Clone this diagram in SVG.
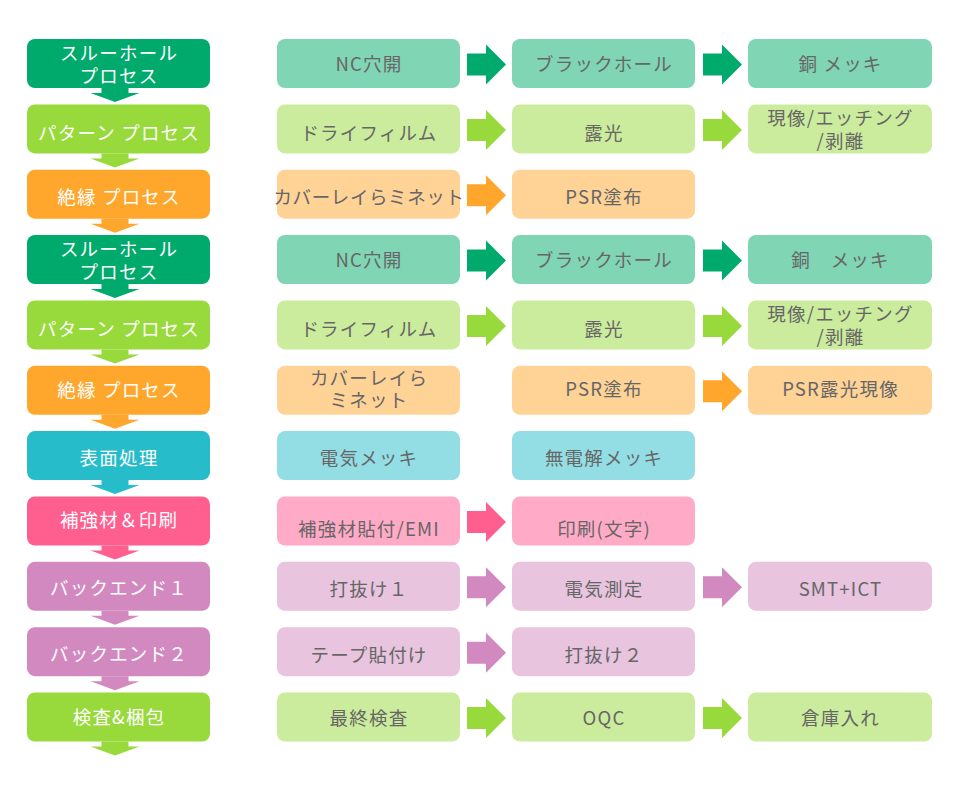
<svg xmlns="http://www.w3.org/2000/svg" xmlns:xlink="http://www.w3.org/1999/xlink" width="957" height="801" viewBox="0 0 957 801">
<defs>
<style>
text{font-family:"Noto Sans CJK JP","Noto Sans",sans-serif;font-size:18.5px;letter-spacing:1.2px;text-anchor:middle;white-space:pre}
.w{fill:#ffffff}
.g{fill:#666666}
.d1{fill:#00aa6c}.l1{fill:#80d5b5}
.d2{fill:#98d93c}.l2{fill:#ccec9d}
.d3{fill:#ffa62c}.l3{fill:#ffd296}
.d4{fill:#26bcca}.l4{fill:#93dde4}
.d5{fill:#ff5f8f}.l5{fill:#ffaac6}
.d6{fill:#d289bf}.l6{fill:#e8c4df}
</style>
<path id="ra" d="M0,-11 H19 V-20 L39,0 L19,20 V11 H0 Z"/>
<path id="da" d="M-13.5,0 H13.5 V5 H24.5 L0,14 L-24.5,5 H-13.5 Z"/>
</defs>

<g id="connectors">
<use xlink:href="#da" class="d1" x="115" y="88"/>
<use xlink:href="#da" class="d2" x="115" y="153.4"/>
<use xlink:href="#da" class="d3" x="115" y="218.7"/>
<use xlink:href="#da" class="d1" x="115" y="284"/>
<use xlink:href="#da" class="d2" x="115" y="349.4"/>
<use xlink:href="#da" class="d3" x="115" y="414.8"/>
<use xlink:href="#da" class="d4" x="115" y="480.1"/>
<use xlink:href="#da" class="d5" x="115" y="545.5"/>
<use xlink:href="#da" class="d6" x="115" y="610.8"/>
<use xlink:href="#da" class="d6" x="115" y="676.2"/>
<use xlink:href="#da" class="d2" x="115" y="741.5"/>

<use xlink:href="#ra" class="d1" x="467" y="64.5"/>
<use xlink:href="#ra" class="d1" x="703" y="64.5"/>
<use xlink:href="#ra" class="d2" x="467" y="129.9"/>
<use xlink:href="#ra" class="d2" x="703" y="129.9"/>
<use xlink:href="#ra" class="d3" x="467" y="195.2"/>
<use xlink:href="#ra" class="d1" x="467" y="260.5"/>
<use xlink:href="#ra" class="d1" x="703" y="260.5"/>
<use xlink:href="#ra" class="d2" x="467" y="325.9"/>
<use xlink:href="#ra" class="d2" x="703" y="325.9"/>
<use xlink:href="#ra" class="d3" x="703" y="391.3"/>
<use xlink:href="#ra" class="d5" x="467" y="522"/>
<use xlink:href="#ra" class="d6" x="467" y="587.3"/>
<use xlink:href="#ra" class="d6" x="703" y="587.3"/>
<use xlink:href="#ra" class="d6" x="467" y="652.7"/>
<use xlink:href="#ra" class="d2" x="467" y="718"/>
<use xlink:href="#ra" class="d2" x="703" y="718"/>
</g>

<!-- Row 0 -->
<g id="n0"><rect class="d1" x="27" y="39" width="183" height="49" rx="8"/><text class="w" x="119" y="60">スルーホール</text><text class="w" x="119" y="82.5">プロセス</text></g>
<g id="n0a"><rect class="l1" x="277" y="39" width="183" height="49" rx="8"/><text class="g" x="369" y="71">NC穴開</text></g>
<g id="n0b"><rect class="l1" x="512" y="39" width="183" height="49" rx="8"/><text class="g" x="604" y="71">ブラックホール</text></g>
<g id="n0c"><rect class="l1" x="748" y="39" width="184" height="49" rx="8"/><text class="g" x="840.5" y="71">銅 メッキ</text></g>

<!-- Row 1 -->
<g id="n1"><rect class="d2" x="27" y="104.4" width="183" height="49" rx="8"/><text class="w" x="119" y="140">パターン プロセス</text></g>
<g id="n1a"><rect class="l2" x="277" y="104.4" width="183" height="49" rx="8"/><text class="g" x="369" y="140">ドライフィルム</text></g>
<g id="n1b"><rect class="l2" x="512" y="104.4" width="183" height="49" rx="8"/><text class="g" x="604" y="140">露光</text></g>
<g id="n1c"><rect class="l2" x="748" y="104.4" width="184" height="49" rx="8"/><text class="g" x="840.5" y="125">現像/エッチング</text><text class="g" x="840.5" y="148">/剥離</text></g>

<!-- Row 2 -->
<g id="n2"><rect class="d3" x="27" y="169.7" width="183" height="49" rx="8"/><text class="w" x="119" y="204">絶縁 プロセス</text></g>
<g id="n2a"><rect class="l3" x="277" y="169.7" width="183" height="49" rx="8"/><text class="g" x="369" y="204" style="letter-spacing:0.6px">カバーレイらミネット</text></g>
<g id="n2b"><rect class="l3" x="512" y="169.7" width="183" height="49" rx="8"/><text class="g" x="604" y="204">PSR塗布</text></g>

<!-- Row 3 -->
<g id="n3"><rect class="d1" x="27" y="235" width="183" height="49" rx="8"/><text class="w" x="119" y="256">スルーホール</text><text class="w" x="119" y="278.5">プロセス</text></g>
<g id="n3a"><rect class="l1" x="277" y="235" width="183" height="49" rx="8"/><text class="g" x="369" y="267">NC穴開</text></g>
<g id="n3b"><rect class="l1" x="512" y="235" width="183" height="49" rx="8"/><text class="g" x="604" y="267">ブラックホール</text></g>
<g id="n3c"><rect class="l1" x="748" y="235" width="184" height="49" rx="8"/><text class="g" x="840.5" y="267">銅　メッキ</text></g>

<!-- Row 4 -->
<g id="n4"><rect class="d2" x="27" y="300.4" width="183" height="49" rx="8"/><text class="w" x="119" y="336">パターン プロセス</text></g>
<g id="n4a"><rect class="l2" x="277" y="300.4" width="183" height="49" rx="8"/><text class="g" x="369" y="336">ドライフィルム</text></g>
<g id="n4b"><rect class="l2" x="512" y="300.4" width="183" height="49" rx="8"/><text class="g" x="604" y="336">露光</text></g>
<g id="n4c"><rect class="l2" x="748" y="300.4" width="184" height="49" rx="8"/><text class="g" x="840.5" y="321">現像/エッチング</text><text class="g" x="840.5" y="344">/剥離</text></g>

<!-- Row 5 -->
<g id="n5"><rect class="d3" x="27" y="365.8" width="183" height="49" rx="8"/><text class="w" x="119" y="397">絶縁 プロセス</text></g>
<g id="n5a"><rect class="l3" x="277" y="365.8" width="183" height="49" rx="8"/><text class="g" x="369" y="385">カバーレイら</text><text class="g" x="369" y="407">ミネット</text></g>
<g id="n5b"><rect class="l3" x="512" y="365.8" width="183" height="49" rx="8"/><text class="g" x="604" y="396">PSR塗布</text></g>
<g id="n5c"><rect class="l3" x="748" y="365.8" width="184" height="49" rx="8"/><text class="g" x="840.5" y="396">PSR露光現像</text></g>

<!-- Row 6 -->
<g id="n6"><rect class="d4" x="27" y="431.1" width="183" height="49" rx="8"/><text class="w" x="119" y="465">表面処理</text></g>
<g id="n6a"><rect class="l4" x="277" y="431.1" width="183" height="49" rx="8"/><text class="g" x="369" y="465">電気メッキ</text></g>
<g id="n6b"><rect class="l4" x="512" y="431.1" width="183" height="49" rx="8"/><text class="g" x="604" y="465">無電解メッキ</text></g>

<!-- Row 7 -->
<g id="n7"><rect class="d5" x="27" y="496.5" width="183" height="49" rx="8"/><text class="w" x="119" y="527">補強材＆印刷</text></g>
<g id="n7a"><rect class="l5" x="277" y="496.5" width="183" height="49" rx="8"/><text class="g" x="369" y="535.5">補強材貼付/EMI</text></g>
<g id="n7b"><rect class="l5" x="512" y="496.5" width="183" height="49" rx="8"/><text class="g" x="604" y="535.5">印刷(文字)</text></g>

<!-- Row 8 -->
<g id="n8"><rect class="d6" x="27" y="561.8" width="183" height="49" rx="8"/><text class="w" x="119" y="595">バックエンド１</text></g>
<g id="n8a"><rect class="l6" x="277" y="561.8" width="183" height="49" rx="8"/><text class="g" x="369" y="596">打抜け１</text></g>
<g id="n8b"><rect class="l6" x="512" y="561.8" width="183" height="49" rx="8"/><text class="g" x="604" y="596">電気測定</text></g>
<g id="n8c"><rect class="l6" x="748" y="561.8" width="184" height="49" rx="8"/><text class="g" x="840.5" y="596">SMT+ICT</text></g>

<!-- Row 9 -->
<g id="n9"><rect class="d6" x="27" y="627.2" width="183" height="49" rx="8"/><text class="w" x="119" y="661">バックエンド２</text></g>
<g id="n9a"><rect class="l6" x="277" y="627.2" width="183" height="49" rx="8"/><text class="g" x="369" y="662">テープ貼付け</text></g>
<g id="n9b"><rect class="l6" x="512" y="627.2" width="183" height="49" rx="8"/><text class="g" x="604" y="662">打抜け２</text></g>

<!-- Row 10 -->
<g id="n10"><rect class="d2" x="27" y="692.5" width="183" height="49" rx="8"/><text class="w" x="119" y="724">検査&amp;梱包</text></g>
<g id="n10a"><rect class="l2" x="277" y="692.5" width="183" height="49" rx="8"/><text class="g" x="369" y="725">最終検査</text></g>
<g id="n10b"><rect class="l2" x="512" y="692.5" width="183" height="49" rx="8"/><text class="g" x="604" y="725">OQC</text></g>
<g id="n10c"><rect class="l2" x="748" y="692.5" width="184" height="49" rx="8"/><text class="g" x="840.5" y="725">倉庫入れ</text></g>
</svg>
